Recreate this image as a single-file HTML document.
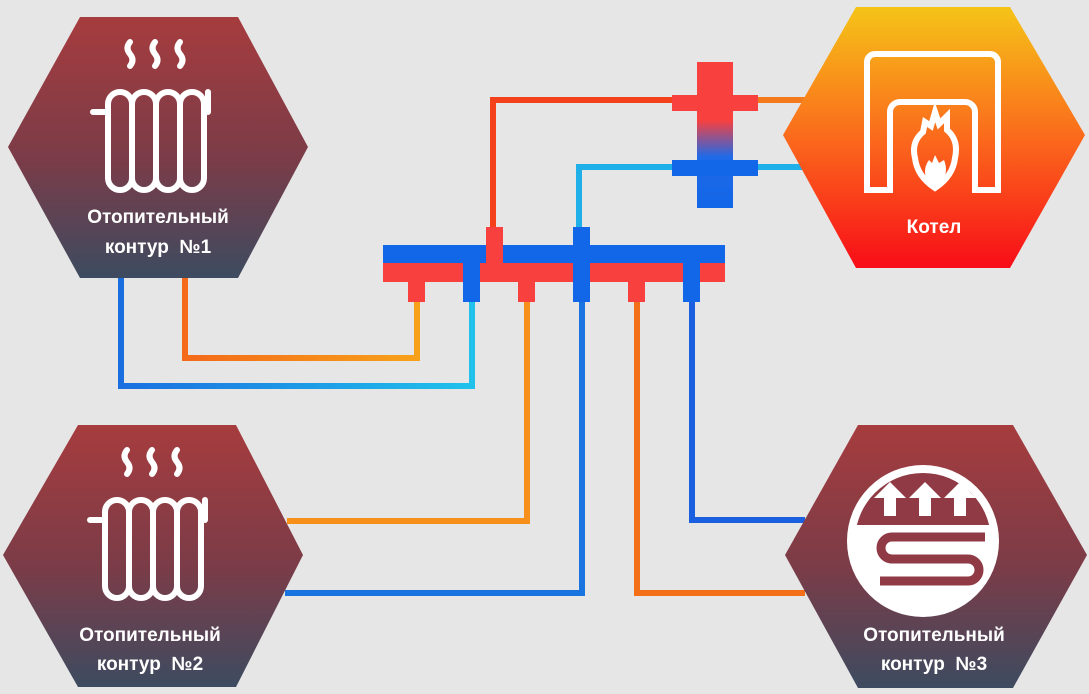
<!DOCTYPE html>
<html><head><meta charset="utf-8"><style>
html,body{margin:0;padding:0;background:#e6e6e6;}
svg{display:block}
text{font-family:"Liberation Sans","DejaVu Sans",sans-serif;fill:#fff;font-size:19px;text-anchor:middle;font-weight:bold;}
</style></head><body>
<svg width="1089" height="694" viewBox="0 0 1089 694" xmlns="http://www.w3.org/2000/svg">
<defs>
<linearGradient id="hx" x1="0" y1="0" x2="0" y2="1"><stop offset="0" stop-color="#a63c3e"/><stop offset="0.55" stop-color="#7a3c48"/><stop offset="1" stop-color="#3d4b60"/></linearGradient>
<linearGradient id="bo" x1="0" y1="0" x2="0" y2="1"><stop offset="0" stop-color="#f5c418"/><stop offset="0.5" stop-color="#fb6a1c"/><stop offset="1" stop-color="#f80d18"/></linearGradient>
<linearGradient id="sep" x1="0" y1="0" x2="0" y2="1"><stop offset="0" stop-color="#f8403f"/><stop offset="0.4" stop-color="#f8403f"/><stop offset="0.65" stop-color="#1f6ae8"/><stop offset="1" stop-color="#1266e8"/></linearGradient>
<linearGradient id="og" x1="0" y1="0" x2="1" y2="0"><stop offset="0" stop-color="#f46a1a"/><stop offset="1" stop-color="#f7a11a"/></linearGradient>
<linearGradient id="bg" x1="0" y1="0" x2="1" y2="0"><stop offset="0" stop-color="#1a6fe0"/><stop offset="1" stop-color="#20c2ec"/></linearGradient>
<clipPath id="top"><rect x="840" y="450" width="170" height="75"/></clipPath>
</defs>
<g fill="none" stroke-width="6" stroke-linejoin="miter">
<polyline points="185,278 185,358 417,358 417,300" stroke="url(#og)"/>
<polyline points="121,278 121,386 472,386 472,300" stroke="url(#bg)"/>
<polyline points="287,521 527,521 527,300" stroke="#f7901a"/>
<polyline points="285,593 582,593 582,300" stroke="#1a74e0"/>
<polyline points="805,593 637,593 637,300" stroke="#f47018"/>
<polyline points="805,520 692,520 692,300" stroke="#1a5fe0"/>
<polyline points="493,230 493,100 680,100" stroke="#f5401c"/>
<line x1="755" y1="100" x2="810" y2="100" stroke="#f57a1c"/>
<polyline points="579,230 579,167 680,167" stroke="#1fb0ea"/>
<line x1="755" y1="167" x2="810" y2="167" stroke="#1fb0ea"/>
</g>
<rect x="383" y="245" width="342" height="18" fill="#1266e8"/>
<rect x="383" y="263" width="342" height="19" fill="#f8403f"/>
<g fill="#f8403f"><rect x="408" y="282" width="17" height="20"/><rect x="518" y="282" width="17" height="20"/><rect x="628" y="282" width="17" height="20"/><rect x="486" y="227" width="17" height="36"/></g>
<g fill="#1266e8"><rect x="463" y="263" width="17" height="39"/><rect x="573" y="227" width="17" height="75"/><rect x="683" y="263" width="17" height="39"/></g>
<rect x="697" y="62" width="36" height="146" fill="url(#sep)"/>
<rect x="672" y="95" width="86" height="16" fill="#f8403f"/>
<rect x="672" y="160" width="86" height="16" fill="#1266e8"/>
<polygon points="80,17 238,17 308,147 238,278 80,278 8,147" fill="url(#hx)"/>
<polygon points="78,425 236,425 303,555 236,687 78,687 3,555" fill="url(#hx)"/>
<polygon points="858,425 1013,425 1087,555 1013,688 858,688 785,555" fill="url(#hx)"/>
<polygon points="856,7 1010,7 1085,135 1010,268 856,268 783,135" fill="url(#bo)"/>
<g id="rad" fill="none" stroke="#fff" stroke-width="6" stroke-linecap="round">
<path d="M130,42 q-5,6 0,12 q5,6 0,12 M155,42 q-5,6 0,12 q5,6 0,12 M180,42 q-5,6 0,12 q5,6 0,12"/>
<path d="M93,112 H108 M208,112 V92"/>
<rect x="108" y="92" width="24" height="98" rx="12"/><rect x="132" y="92" width="24" height="98" rx="12"/><rect x="156" y="92" width="24" height="98" rx="12"/><rect x="180" y="92" width="24" height="98" rx="12"/>
</g>
<use href="#rad" transform="translate(-3,408)"/>
<text x="158" y="223">Отопительный</text>
<text x="158" y="253">контур &#160;№1</text>
<text x="150" y="641">Отопительный</text>
<text x="150" y="670">контур &#160;№2</text>
<text x="934" y="641">Отопительный</text>
<text x="934" y="670">контур &#160;№3</text>
<circle cx="923" cy="541" r="76" fill="#fff"/>
<circle cx="923" cy="541" r="68" fill="#8f3a44" clip-path="url(#top)"/>
<g fill="#fff"><path d="M884,516 v-18 h-10 l16,-16 l16,16 h-10 v18 z"/><path d="M919,516 v-18 h-10 l16,-16 l16,16 h-10 v18 z"/><path d="M954,516 v-18 h-10 l16,-16 l16,16 h-10 v18 z"/></g>
<path d="M985,537 H892 a11,11 0 0 0 0,22 H968 a11,11 0 0 1 0,22 H880" fill="none" stroke="#8f3a44" stroke-width="9"/>
<g fill="none" stroke="#fff" stroke-width="6">
<path d="M890,190 H867 V62 a8,8 0 0 1 8,-8 H990 a8,8 0 0 1 8,8 V190 H975 V112 a10,10 0 0 0 -10,-10 H900 a10,10 0 0 0 -10,10 Z"/>
<path d="M935,112 l4,12 l8,-8 l0,14 q12,10 8,28 q-2,18 -20,30 q-18,-12 -20,-30 q-4,-16 8,-26 l2,-10 l6,4 z"/>
</g>
<path d="M935,155 l4,8 l5,-3 q4,10 0,18 q-4,8 -9,8 q-6,0 -9,-8 q-3,-10 3,-18 l3,3 z" fill="#fff"/>
<text x="934" y="233">Котел</text>
</svg>
</body></html>
